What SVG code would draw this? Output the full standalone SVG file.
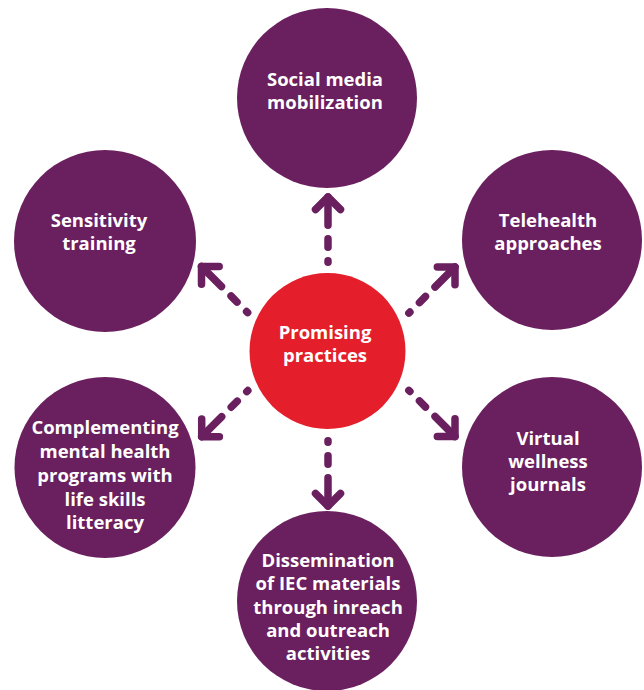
<svg xmlns="http://www.w3.org/2000/svg" width="644" height="690" viewBox="0 0 644 690">
  <style>
    .node { fill: #6A1F5E; }
    .hub { fill: #E41E2B; }
    .label { font-family: "Open Sans", "Liberation Sans", sans-serif; font-weight: 700; font-size: 18.5px; fill: #FFFFFF; text-anchor: middle; }
    .link { fill: none; stroke: #6A1F5E; stroke-width: 7.5; stroke-linecap: round; stroke-dasharray: 28.25 13.5 8.5 13.5 1.5 200; marker-start: url(#chevron); }
  </style>
  <defs>
    <!-- open chevron head, drawn at the start of each path (the tip end) and turned outward -->
    <marker id="chevron" markerUnits="userSpaceOnUse" viewBox="-20 -20 40 40" markerWidth="40" markerHeight="40" refX="0" refY="0" orient="auto-start-reverse" overflow="visible">
      <path d="M-12.5,-12.5 L0,0 L-12.5,12.5" fill="none" stroke="#6A1F5E" stroke-width="7.5" stroke-linecap="round" stroke-linejoin="round"/>
    </marker>
  </defs>
  <rect width="644" height="690" fill="#FFFFFF"/>

  <!-- dashed connectors from the hub out to each practice -->
  <g id="connectors">
    <path class="link" d="M328,197 V263"/>
    <path class="link" d="M328,506 V440"/>
    <path class="link" d="M201.5,266.5 L248.2,313.2"/>
    <path class="link" d="M455,267 L408.3,313.7"/>
    <path class="link" d="M201.7,436.7 L248.4,390"/>
    <path class="link" d="M455,436.5 L408.3,389.8"/>
  </g>

  <g id="hub">
    <circle class="hub" cx="327.5" cy="351" r="78"/>
    <text class="label"><tspan x="325" y="338.5">Promising</tspan><tspan x="325" y="362">practices</tspan></text>
  </g>

  <g id="social-media">
    <circle class="node" cx="327" cy="98" r="90"/>
    <text class="label"><tspan x="325" y="86">Social media</tspan><tspan x="325" y="109">mobilization</tspan></text>
  </g>

  <g id="sensitivity">
    <circle class="node" cx="105" cy="241" r="91"/>
    <text class="label"><tspan x="99" y="227">Sensitivity</tspan><tspan x="99" y="250">training</tspan></text>
  </g>

  <g id="telehealth">
    <circle class="node" cx="552" cy="240" r="90"/>
    <text class="label"><tspan x="548" y="227">Telehealth</tspan><tspan x="548" y="250">approaches</tspan></text>
  </g>

  <g id="life-skills">
    <circle class="node" cx="105" cy="467.5" r="90.5"/>
    <text class="label"><tspan x="105" y="434">Complementing</tspan><tspan x="105" y="458">mental health</tspan><tspan x="105" y="482">programs with</tspan><tspan x="105" y="505.5">life skills</tspan><tspan x="105" y="529">litteracy</tspan></text>
  </g>

  <g id="wellness-journals">
    <circle class="node" cx="552" cy="467" r="90"/>
    <text class="label"><tspan x="548" y="445">Virtual</tspan><tspan x="548" y="468">wellness</tspan><tspan x="548" y="491">journals</tspan></text>
  </g>

  <g id="iec-materials">
    <circle class="node" cx="327" cy="601" r="90"/>
    <text class="label"><tspan x="328" y="567">Dissemination</tspan><tspan x="328" y="590">of IEC materials</tspan><tspan x="328" y="613.5">through inreach</tspan><tspan x="328" y="637">and outreach</tspan><tspan x="328" y="660">activities</tspan></text>
  </g>
</svg>
